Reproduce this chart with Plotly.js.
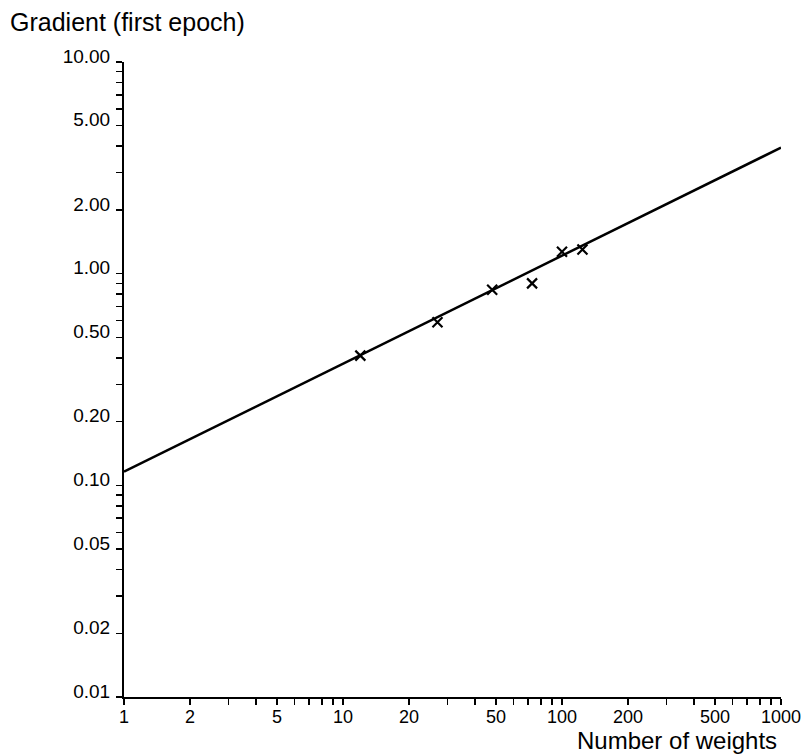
<!DOCTYPE html>
<html>
<head>
<meta charset="utf-8">
<script src="https://cdn.plot.ly/plotly-3.0.1.min.js"></script>
<style>
  html, body { margin: 0; padding: 0; background: #fff; }
  #chart { width: 804px; height: 754px; }
</style>
</head>
<body>
<div id="chart"></div>
<script>
// Measured gradient magnitude in the first epoch vs. network size
const nWeights = [12, 27, 48, 73, 100, 124];
const gradient = [0.41, 0.59, 0.84, 0.90, 1.27, 1.30];

// Power-law fit drawn across the full x range
const fitX = [1, 1000];
const fitY = [0.116, 3.94];

// Labelled ticks on each log axis
const xLabelled = [1, 2, 5, 10, 20, 50, 100, 200, 500, 1000];
const yLabelled = [0.01, 0.02, 0.05, 0.1, 0.2, 0.5, 1, 2, 5, 10];

// One tick per integer multiple in each decade; only some carry a label
function decadeTicks(lo, hi, labelled, fmt) {
  const vals = [], text = [];
  for (let e = lo; e < hi; e++) {
    for (let m = 1; m <= 9; m++) {
      const v = +(m * Math.pow(10, e)).toPrecision(6);
      vals.push(v);
      text.push(labelled.some(l => Math.abs(l - v) < 1e-9) ? fmt(v) : '');
    }
  }
  const top = +Math.pow(10, hi).toPrecision(6);
  vals.push(top);
  text.push(fmt(top));
  return { vals, text };
}

const xt = decadeTicks(0, 3, xLabelled, v => String(v));
const yt = decadeTicks(-2, 1, yLabelled, v => v.toFixed(2));

const FONT = '"Liberation Sans", Arial, Helvetica, sans-serif';

const traces = [
  {
    x: fitX, y: fitY,
    type: 'scatter', mode: 'lines',
    line: { color: '#000', width: 2.5 },
    hoverinfo: 'skip', showlegend: false
  },
  {
    x: nWeights, y: gradient,
    type: 'scatter', mode: 'markers',
    marker: { symbol: 'x-thin', size: 10, color: '#000', line: { color: '#000', width: 2.2 } },
    showlegend: false
  }
];

const axisCommon = {
  type: 'log',
  showgrid: false, zeroline: false,
  showline: true, linecolor: '#000', linewidth: 2,
  ticks: 'outside', ticklen: 6, tickwidth: 1.5, tickcolor: '#000',
  tickmode: 'array',
  tickfont: { family: FONT, size: 19, color: '#000' },
  fixedrange: true
};

const layout = {
  width: 804, height: 754,
  margin: { l: 124, r: 23, t: 62, b: 57 },
  paper_bgcolor: '#fff', plot_bgcolor: '#fff',
  font: { family: FONT, color: '#000' },
  xaxis: Object.assign({}, axisCommon, {
    range: [0, 3],
    tickvals: xt.vals, ticktext: xt.text,
    tickfont: { family: FONT, size: 18, color: '#000' },
    ticklabelstandoff: -4
  }),
  yaxis: Object.assign({}, axisCommon, {
    range: [-2, 1],
    tickvals: yt.vals, ticktext: yt.text,
    ticklabelstandoff: 2,
    ticklabelshift: -6
  }),
  annotations: [
    {
      text: 'Gradient (first epoch)',
      xref: 'paper', yref: 'paper',
      x: -0.1766, y: 1.063, xanchor: 'left', yanchor: 'middle',
      showarrow: false,
      font: { family: FONT, size: 25, color: '#000' }
    },
    {
      text: 'Number of weights',
      xref: 'paper', yref: 'paper',
      x: 0.997, y: -0.0685, xanchor: 'right', yanchor: 'middle',
      showarrow: false,
      font: { family: FONT, size: 24, color: '#000' }
    }
  ]
};

Plotly.newPlot('chart', traces, layout, { displayModeBar: false, staticPlot: true });
</script>
</body>
</html>
